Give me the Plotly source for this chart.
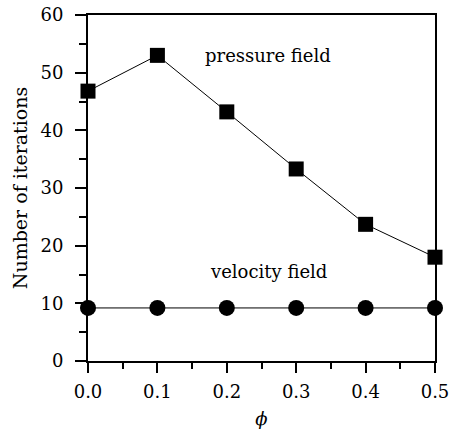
import plotly.graph_objects as go

phi = [0.0, 0.1, 0.2, 0.3, 0.4, 0.5]
pressure_iters = [46.8, 53.0, 43.2, 33.3, 23.7, 18.0]
velocity_iters = [9.2, 9.2, 9.2, 9.2, 9.2, 9.2]
x_ticks = [0.0, 0.1, 0.2, 0.3, 0.4, 0.5]
x_tick_labels = ["0.0", "0.1", "0.2", "0.3", "0.4", "0.5"]
y_ticks = [0, 10, 20, 30, 40, 50, 60]

font_family = "DejaVu Serif"

fig = go.Figure()
fig.add_trace(go.Scatter(
    x=phi, y=pressure_iters, mode="lines+markers",
    line=dict(color="black", width=1),
    marker=dict(symbol="square", size=15, color="black"),
    cliponaxis=False, showlegend=False))
fig.add_trace(go.Scatter(
    x=phi, y=velocity_iters, mode="lines+markers",
    line=dict(color="black", width=1),
    marker=dict(symbol="circle", size=16, color="black"),
    cliponaxis=False, showlegend=False))

fig.add_annotation(x=0.26, y=53, text="pressure field", showarrow=False,
                   font=dict(family=font_family, size=18, color="black"))
fig.add_annotation(x=0.26, y=15.5, text="velocity field", showarrow=False,
                   font=dict(family=font_family, size=18, color="black"))

fig.update_xaxes(
    range=[0, 0.5], tickvals=x_ticks, ticktext=x_tick_labels,
    ticks="outside", ticklen=10, tickwidth=2, tickcolor="black",
    minor=dict(dtick=0.05, ticks="outside", ticklen=6, tickwidth=2, tickcolor="black", showgrid=False),
    showline=True, linewidth=2, linecolor="black", mirror=True,
    showgrid=False, zeroline=False, automargin=False, ticklabelstandoff=3,
    ticklabeloverflow="allow",
    tickfont=dict(family=font_family, size=18, color="black"),
    title=dict(text="<i>ϕ</i>", font=dict(family=font_family, size=18, color="black"), standoff=23))
fig.update_yaxes(
    range=[0, 60], tickvals=y_ticks,
    ticks="outside", ticklen=11, tickwidth=2, tickcolor="black",
    minor=dict(dtick=5, ticks="outside", ticklen=7, tickwidth=2, tickcolor="black", showgrid=False),
    showline=True, linewidth=2, linecolor="black", mirror=True,
    showgrid=False, zeroline=False, automargin=False, ticklabelstandoff=8,
    ticklabeloverflow="allow",
    tickfont=dict(family=font_family, size=18, color="black"),
    title=dict(text="Number of iterations", font=dict(family=font_family, size=19, color="black"), standoff=8))

fig.update_layout(
    width=451, height=429,
    margin=dict(l=88, r=16, t=15, b=68),
    plot_bgcolor="white", paper_bgcolor="white",
)
fig.write_html("out.html", config={"displayModeBar": False},
               post_script="document.body.style.margin='0';document.body.style.overflow='hidden';")
